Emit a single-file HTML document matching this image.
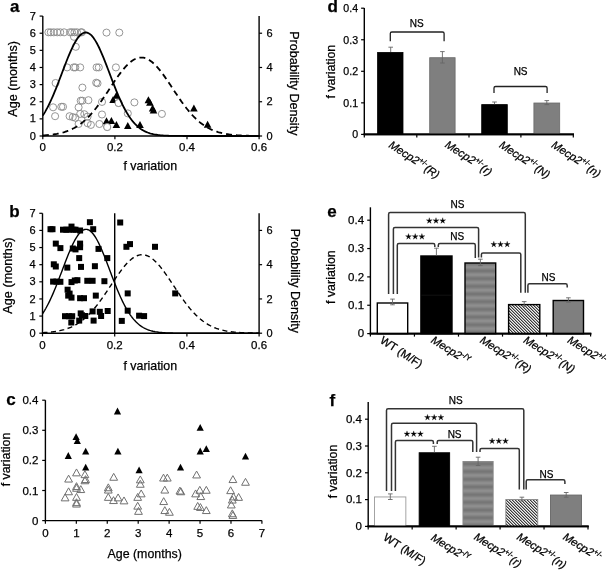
<!DOCTYPE html>
<html><head><meta charset="utf-8"><style>
html,body{margin:0;padding:0;background:#fff;}
svg{display:block;font-family:"Liberation Sans", sans-serif;will-change:transform;filter:blur(0.3px);}
text{stroke:#000;stroke-width:0.25px;}
</style></head><body>
<svg width="609" height="572" viewBox="0 0 609 572">
<defs>
<linearGradient id="hsg" x1="0" y1="0" x2="0" y2="1"><stop offset="0" stop-color="#929292"/><stop offset="0.5" stop-color="#727272"/><stop offset="1" stop-color="#929292"/></linearGradient>
<pattern id="hs" patternUnits="userSpaceOnUse" x="0" y="282.45" width="10" height="7.7"><rect width="10" height="7.7" fill="url(#hsg)"/></pattern>
<pattern id="hs2" patternUnits="userSpaceOnUse" x="0" y="460" width="10" height="7.7"><rect width="10" height="7.7" fill="url(#hsg)"/></pattern>
<pattern id="dg" patternUnits="userSpaceOnUse" width="3" height="3"><rect width="3" height="3" fill="#f0f0f0"/><rect x="0" y="0" width="1" height="1" fill="#3a3a3a"/><rect x="1" y="1" width="1" height="1" fill="#3a3a3a"/><rect x="2" y="2" width="1" height="1" fill="#3a3a3a"/><rect x="1" y="0" width="1" height="1" fill="#a0a0a0"/><rect x="2" y="1" width="1" height="1" fill="#a0a0a0"/><rect x="0" y="2" width="1" height="1" fill="#a0a0a0"/></pattern>
</defs>
<line x1="42.8" y1="16.09" x2="42.8" y2="136.7" stroke="#000" stroke-width="1.4"/>
<line x1="42.1" y1="136" x2="259.8" y2="136" stroke="#000" stroke-width="1.4"/>
<line x1="259.1" y1="16.09" x2="259.1" y2="136.7" stroke="#000" stroke-width="1.4"/>
<line x1="39.6" y1="136" x2="42.8" y2="136" stroke="#000" stroke-width="1.2"/>
<text x="35.8" y="139.6" font-size="11" text-anchor="end" font-weight="normal" font-style="normal" fill="#000">0</text>
<line x1="39.6" y1="118.87" x2="42.8" y2="118.87" stroke="#000" stroke-width="1.2"/>
<text x="35.8" y="122.47" font-size="11" text-anchor="end" font-weight="normal" font-style="normal" fill="#000">1</text>
<line x1="39.6" y1="101.74" x2="42.8" y2="101.74" stroke="#000" stroke-width="1.2"/>
<text x="35.8" y="105.34" font-size="11" text-anchor="end" font-weight="normal" font-style="normal" fill="#000">2</text>
<line x1="39.6" y1="84.61" x2="42.8" y2="84.61" stroke="#000" stroke-width="1.2"/>
<text x="35.8" y="88.21" font-size="11" text-anchor="end" font-weight="normal" font-style="normal" fill="#000">3</text>
<line x1="39.6" y1="67.48" x2="42.8" y2="67.48" stroke="#000" stroke-width="1.2"/>
<text x="35.8" y="71.08" font-size="11" text-anchor="end" font-weight="normal" font-style="normal" fill="#000">4</text>
<line x1="39.6" y1="50.35" x2="42.8" y2="50.35" stroke="#000" stroke-width="1.2"/>
<text x="35.8" y="53.95" font-size="11" text-anchor="end" font-weight="normal" font-style="normal" fill="#000">5</text>
<line x1="39.6" y1="33.22" x2="42.8" y2="33.22" stroke="#000" stroke-width="1.2"/>
<text x="35.8" y="36.82" font-size="11" text-anchor="end" font-weight="normal" font-style="normal" fill="#000">6</text>
<line x1="39.6" y1="16.09" x2="42.8" y2="16.09" stroke="#000" stroke-width="1.2"/>
<text x="35.8" y="19.69" font-size="11" text-anchor="end" font-weight="normal" font-style="normal" fill="#000">7</text>
<line x1="259.1" y1="136" x2="262.1" y2="136" stroke="#000" stroke-width="1.2"/>
<text x="266.4" y="139.6" font-size="11" text-anchor="start" font-weight="normal" font-style="normal" fill="#000">0</text>
<line x1="259.1" y1="101.74" x2="262.1" y2="101.74" stroke="#000" stroke-width="1.2"/>
<text x="266.4" y="105.34" font-size="11" text-anchor="start" font-weight="normal" font-style="normal" fill="#000">2</text>
<line x1="259.1" y1="67.48" x2="262.1" y2="67.48" stroke="#000" stroke-width="1.2"/>
<text x="266.4" y="71.08" font-size="11" text-anchor="start" font-weight="normal" font-style="normal" fill="#000">4</text>
<line x1="259.1" y1="33.22" x2="262.1" y2="33.22" stroke="#000" stroke-width="1.2"/>
<text x="266.4" y="36.82" font-size="11" text-anchor="start" font-weight="normal" font-style="normal" fill="#000">6</text>
<line x1="42.8" y1="136" x2="42.8" y2="139.2" stroke="#000" stroke-width="1.2"/>
<text x="42.8" y="151" font-size="11.5" text-anchor="middle" font-weight="normal" font-style="normal" fill="#000">0</text>
<line x1="114.9" y1="136" x2="114.9" y2="139.2" stroke="#000" stroke-width="1.2"/>
<text x="114.9" y="151" font-size="11.5" text-anchor="middle" font-weight="normal" font-style="normal" fill="#000">0.2</text>
<line x1="187" y1="136" x2="187" y2="139.2" stroke="#000" stroke-width="1.2"/>
<text x="187" y="151" font-size="11.5" text-anchor="middle" font-weight="normal" font-style="normal" fill="#000">0.4</text>
<line x1="259.1" y1="136" x2="259.1" y2="139.2" stroke="#000" stroke-width="1.2"/>
<text x="259.1" y="151" font-size="11.5" text-anchor="middle" font-weight="normal" font-style="normal" fill="#000">0.6</text>
<text x="150.3" y="169.6" font-size="12.4" text-anchor="middle" font-weight="normal" font-style="normal" fill="#000">f variation</text>
<text x="0" y="0" font-size="12.6" text-anchor="middle" font-weight="normal" font-style="normal" fill="#000" transform="translate(16.6,78.9) rotate(-90)">Age (months)</text>
<text x="0" y="0" font-size="12.6" text-anchor="middle" font-weight="normal" font-style="normal" fill="#000" transform="translate(289.8,83.3) rotate(90)">Probability Density</text>
<text x="9.9" y="12" font-size="17" text-anchor="start" font-weight="bold" font-style="normal" fill="#000">a</text>
<circle cx="48.4" cy="32.3" r="3.55" fill="none" stroke="#8a8a8a" stroke-width="0.9"/>
<circle cx="50.8" cy="32.3" r="3.55" fill="none" stroke="#8a8a8a" stroke-width="0.9"/>
<circle cx="53.8" cy="32.3" r="3.55" fill="none" stroke="#8a8a8a" stroke-width="0.9"/>
<circle cx="57.2" cy="32.3" r="3.55" fill="none" stroke="#8a8a8a" stroke-width="0.9"/>
<circle cx="60.2" cy="32.3" r="3.55" fill="none" stroke="#8a8a8a" stroke-width="0.9"/>
<circle cx="64.1" cy="32.3" r="3.55" fill="none" stroke="#8a8a8a" stroke-width="0.9"/>
<circle cx="70" cy="32.3" r="3.55" fill="none" stroke="#8a8a8a" stroke-width="0.9"/>
<circle cx="72" cy="32.3" r="3.55" fill="none" stroke="#8a8a8a" stroke-width="0.9"/>
<circle cx="74.5" cy="32.3" r="3.55" fill="none" stroke="#8a8a8a" stroke-width="0.9"/>
<circle cx="77" cy="32.3" r="3.55" fill="none" stroke="#8a8a8a" stroke-width="0.9"/>
<circle cx="80.9" cy="32.3" r="3.55" fill="none" stroke="#8a8a8a" stroke-width="0.9"/>
<circle cx="81.9" cy="32.3" r="3.55" fill="none" stroke="#8a8a8a" stroke-width="0.9"/>
<circle cx="106.5" cy="32.6" r="3.55" fill="none" stroke="#8a8a8a" stroke-width="0.9"/>
<circle cx="119.3" cy="32.6" r="3.55" fill="none" stroke="#8a8a8a" stroke-width="0.9"/>
<circle cx="74" cy="36.8" r="3.55" fill="none" stroke="#8a8a8a" stroke-width="0.9"/>
<circle cx="75.8" cy="46.8" r="3.55" fill="none" stroke="#8a8a8a" stroke-width="0.9"/>
<circle cx="67.1" cy="67.4" r="3.55" fill="none" stroke="#8a8a8a" stroke-width="0.9"/>
<circle cx="73.7" cy="67.4" r="3.55" fill="none" stroke="#8a8a8a" stroke-width="0.9"/>
<circle cx="75.3" cy="67.4" r="3.55" fill="none" stroke="#8a8a8a" stroke-width="0.9"/>
<circle cx="80.2" cy="67.4" r="3.55" fill="none" stroke="#8a8a8a" stroke-width="0.9"/>
<circle cx="96.6" cy="67.4" r="3.55" fill="none" stroke="#8a8a8a" stroke-width="0.9"/>
<circle cx="98.8" cy="67.4" r="3.55" fill="none" stroke="#8a8a8a" stroke-width="0.9"/>
<circle cx="115.9" cy="67.4" r="3.55" fill="none" stroke="#8a8a8a" stroke-width="0.9"/>
<circle cx="55.6" cy="83" r="3.55" fill="none" stroke="#8a8a8a" stroke-width="0.9"/>
<circle cx="82.4" cy="87.6" r="3.55" fill="none" stroke="#8a8a8a" stroke-width="0.9"/>
<circle cx="96.2" cy="82.7" r="3.55" fill="none" stroke="#8a8a8a" stroke-width="0.9"/>
<circle cx="97.5" cy="83.3" r="3.55" fill="none" stroke="#8a8a8a" stroke-width="0.9"/>
<circle cx="80.7" cy="100.7" r="3.55" fill="none" stroke="#8a8a8a" stroke-width="0.9"/>
<circle cx="82.4" cy="100.7" r="3.55" fill="none" stroke="#8a8a8a" stroke-width="0.9"/>
<circle cx="88.4" cy="100.2" r="3.55" fill="none" stroke="#8a8a8a" stroke-width="0.9"/>
<circle cx="102" cy="101.9" r="3.55" fill="none" stroke="#8a8a8a" stroke-width="0.9"/>
<circle cx="53.1" cy="107.3" r="3.55" fill="none" stroke="#8a8a8a" stroke-width="0.9"/>
<circle cx="61.3" cy="106.8" r="3.55" fill="none" stroke="#8a8a8a" stroke-width="0.9"/>
<circle cx="63" cy="106.8" r="3.55" fill="none" stroke="#8a8a8a" stroke-width="0.9"/>
<circle cx="78.6" cy="107.3" r="3.55" fill="none" stroke="#8a8a8a" stroke-width="0.9"/>
<circle cx="134.4" cy="102.4" r="3.55" fill="none" stroke="#8a8a8a" stroke-width="0.9"/>
<circle cx="118.6" cy="103" r="3.55" fill="none" stroke="#8a8a8a" stroke-width="0.9"/>
<circle cx="55.1" cy="116.2" r="3.55" fill="none" stroke="#8a8a8a" stroke-width="0.9"/>
<circle cx="69.6" cy="116.2" r="3.55" fill="none" stroke="#8a8a8a" stroke-width="0.9"/>
<circle cx="72.8" cy="117.1" r="3.55" fill="none" stroke="#8a8a8a" stroke-width="0.9"/>
<circle cx="75.3" cy="117.8" r="3.55" fill="none" stroke="#8a8a8a" stroke-width="0.9"/>
<circle cx="80.2" cy="113.9" r="3.55" fill="none" stroke="#8a8a8a" stroke-width="0.9"/>
<circle cx="84.3" cy="114.2" r="3.55" fill="none" stroke="#8a8a8a" stroke-width="0.9"/>
<circle cx="87.6" cy="116.6" r="3.55" fill="none" stroke="#8a8a8a" stroke-width="0.9"/>
<circle cx="102" cy="114.5" r="3.55" fill="none" stroke="#8a8a8a" stroke-width="0.9"/>
<circle cx="127.8" cy="113.4" r="3.55" fill="none" stroke="#8a8a8a" stroke-width="0.9"/>
<circle cx="78.6" cy="124" r="3.55" fill="none" stroke="#8a8a8a" stroke-width="0.9"/>
<circle cx="87.6" cy="123.2" r="3.55" fill="none" stroke="#8a8a8a" stroke-width="0.9"/>
<circle cx="90.9" cy="124.9" r="3.55" fill="none" stroke="#8a8a8a" stroke-width="0.9"/>
<circle cx="99.4" cy="124" r="3.55" fill="none" stroke="#8a8a8a" stroke-width="0.9"/>
<circle cx="107.2" cy="127" r="3.55" fill="none" stroke="#8a8a8a" stroke-width="0.9"/>
<circle cx="161.9" cy="113.9" r="3.55" fill="none" stroke="#8a8a8a" stroke-width="0.9"/>
<path d="M116.4 91.8 L120.2 98.8 L112.6 98.8Z" fill="#000" stroke="none" stroke-width="0"/>
<path d="M113.1 95.9 L116.9 102.9 L109.3 102.9Z" fill="#000" stroke="none" stroke-width="0"/>
<path d="M106.5 117.3 L110.3 124.3 L102.7 124.3Z" fill="#000" stroke="none" stroke-width="0"/>
<path d="M111.4 116.9 L115.2 123.9 L107.6 123.9Z" fill="#000" stroke="none" stroke-width="0"/>
<path d="M116.4 121 L120.2 128 L112.6 128Z" fill="#000" stroke="none" stroke-width="0"/>
<path d="M127.8 121.9 L131.6 128.9 L124 128.9Z" fill="#000" stroke="none" stroke-width="0"/>
<path d="M140 121 L143.8 128 L136.2 128Z" fill="#000" stroke="none" stroke-width="0"/>
<path d="M148.4 96.2 L152.2 103.2 L144.6 103.2Z" fill="#000" stroke="none" stroke-width="0"/>
<path d="M149.9 98.7 L153.7 105.7 L146.1 105.7Z" fill="#000" stroke="none" stroke-width="0"/>
<path d="M152.6 104.5 L156.4 111.5 L148.8 111.5Z" fill="#000" stroke="none" stroke-width="0"/>
<path d="M153.5 106.6 L157.3 113.6 L149.7 113.6Z" fill="#000" stroke="none" stroke-width="0"/>
<path d="M193.9 104.5 L197.7 111.5 L190.1 111.5Z" fill="#000" stroke="none" stroke-width="0"/>
<path d="M207.6 120.7 L211.4 127.7 L203.8 127.7Z" fill="#000" stroke="none" stroke-width="0"/>
<circle cx="118.6" cy="103" r="3.55" fill="#fff" stroke="#8a8a8a" stroke-width="0.9"/>
<circle cx="107.2" cy="127" r="3.55" fill="#fff" stroke="#8a8a8a" stroke-width="0.9"/>
<path d="M42.8,115.62 L43.88,113.9 L44.96,112.09 L46.04,110.18 L47.13,108.18 L48.21,106.08 L49.29,103.89 L50.37,101.62 L51.45,99.25 L52.53,96.81 L53.61,94.29 L54.7,91.7 L55.78,89.04 L56.86,86.33 L57.94,83.57 L59.02,80.77 L60.1,77.95 L61.19,75.1 L62.27,72.25 L63.35,69.4 L64.43,66.56 L65.51,63.76 L66.59,60.99 L67.67,58.29 L68.76,55.65 L69.84,53.09 L70.92,50.63 L72,48.27 L73.08,46.04 L74.16,43.94 L75.25,41.98 L76.33,40.19 L77.41,38.56 L78.49,37.1 L79.57,35.83 L80.65,34.76 L81.73,33.88 L82.82,33.21 L83.9,32.75 L84.98,32.5 L86.06,32.47 L87.14,32.65 L88.22,33.04 L89.3,33.64 L90.39,34.45 L91.47,35.45 L92.55,36.66 L93.63,38.05 L94.71,39.62 L95.79,41.37 L96.88,43.27 L97.96,45.32 L99.04,47.51 L100.12,49.83 L101.2,52.26 L102.28,54.78 L103.36,57.4 L104.45,60.08 L105.53,62.83 L106.61,65.62 L107.69,68.45 L108.77,71.3 L109.85,74.15 L110.93,77 L112.02,79.83 L113.1,82.64 L114.18,85.42 L115.26,88.14 L116.34,90.82 L117.42,93.43 L118.5,95.98 L119.59,98.45 L120.67,100.84 L121.75,103.14 L122.83,105.36 L123.91,107.49 L124.99,109.52 L126.08,111.46 L127.16,113.31 L128.24,115.06 L129.32,116.71 L130.4,118.27 L131.48,119.74 L132.56,121.12 L133.65,122.41 L134.73,123.61 L135.81,124.73 L136.89,125.77 L137.97,126.73 L139.05,127.62 L140.13,128.44 L141.22,129.19 L142.3,129.89 L143.38,130.52 L144.46,131.09 L145.54,131.62 L146.62,132.1 L147.71,132.53 L148.79,132.92 L149.87,133.27 L150.95,133.59 L152.03,133.87 L153.11,134.13 L154.19,134.36 L155.28,134.56 L156.36,134.74 L157.44,134.9 L158.52,135.04 L159.6,135.17 L160.68,135.28 L161.76,135.38 L162.85,135.46 L163.93,135.53 L165.01,135.6 L166.09,135.66 L167.17,135.71 L168.25,135.75 L169.34,135.79 L170.42,135.82 L171.5,135.84 L172.58,135.87 L173.66,135.89 L174.74,135.91 L175.82,135.92 L176.91,135.93 L177.99,135.94 L179.07,135.95 L180.15,135.96 L181.23,135.97 L182.31,135.97 L183.39,135.98 L184.48,135.98 L185.56,135.98 L186.64,135.99 L187.72,135.99 L188.8,135.99 L189.88,135.99 L190.97,135.99 L192.05,136 L193.13,136 L194.21,136 L195.29,136 L196.37,136 L197.45,136 L198.54,136 L199.62,136 L200.7,136 L201.78,136 L202.86,136 L203.94,136 L205.02,136 L206.11,136 L207.19,136 L208.27,136 L209.35,136 L210.43,136 L211.51,136 L212.6,136 L213.68,136 L214.76,136 L215.84,136 L216.92,136 L218,136 L219.08,136 L220.17,136 L221.25,136 L222.33,136 L223.41,136 L224.49,136 L225.57,136 L226.65,136 L227.74,136 L228.82,136 L229.9,136 L230.98,136 L232.06,136 L233.14,136 L234.23,136 L235.31,136 L236.39,136 L237.47,136 L238.55,136 L239.63,136 L240.71,136 L241.8,136 L242.88,136 L243.96,136 L245.04,136 L246.12,136 L247.2,136 L248.28,136 L249.37,136 L250.45,136 L251.53,136 L252.61,136 L253.69,136 L254.77,136 L255.86,136 L256.94,136 L258.02,136 L259.1,136" fill="none" stroke="#000" stroke-width="1.8"/>
<path d="M42.8,135.42 L43.88,135.36 L44.96,135.29 L46.04,135.21 L47.13,135.12 L48.21,135.02 L49.29,134.92 L50.37,134.81 L51.45,134.68 L52.53,134.55 L53.61,134.4 L54.7,134.24 L55.78,134.06 L56.86,133.88 L57.94,133.67 L59.02,133.45 L60.1,133.21 L61.19,132.95 L62.27,132.67 L63.35,132.38 L64.43,132.06 L65.51,131.71 L66.59,131.34 L67.67,130.95 L68.76,130.53 L69.84,130.08 L70.92,129.6 L72,129.09 L73.08,128.55 L74.16,127.98 L75.25,127.37 L76.33,126.73 L77.41,126.05 L78.49,125.33 L79.57,124.58 L80.65,123.79 L81.73,122.96 L82.82,122.09 L83.9,121.17 L84.98,120.22 L86.06,119.23 L87.14,118.19 L88.22,117.11 L89.3,116 L90.39,114.84 L91.47,113.64 L92.55,112.4 L93.63,111.12 L94.71,109.8 L95.79,108.44 L96.88,107.05 L97.96,105.63 L99.04,104.17 L100.12,102.68 L101.2,101.17 L102.28,99.63 L103.36,98.06 L104.45,96.48 L105.53,94.87 L106.61,93.26 L107.69,91.63 L108.77,90 L109.85,88.36 L110.93,86.72 L112.02,85.08 L113.1,83.46 L114.18,81.84 L115.26,80.25 L116.34,78.67 L117.42,77.12 L118.5,75.6 L119.59,74.11 L120.67,72.66 L121.75,71.26 L122.83,69.9 L123.91,68.59 L124.99,67.34 L126.08,66.15 L127.16,65.02 L128.24,63.96 L129.32,62.97 L130.4,62.06 L131.48,61.22 L132.56,60.46 L133.65,59.79 L134.73,59.2 L135.81,58.69 L136.89,58.28 L137.97,57.96 L139.05,57.73 L140.13,57.59 L141.22,57.54 L142.3,57.59 L143.38,57.73 L144.46,57.96 L145.54,58.28 L146.62,58.69 L147.71,59.2 L148.79,59.79 L149.87,60.46 L150.95,61.22 L152.03,62.06 L153.11,62.97 L154.19,63.96 L155.28,65.02 L156.36,66.15 L157.44,67.34 L158.52,68.59 L159.6,69.9 L160.68,71.26 L161.76,72.66 L162.85,74.11 L163.93,75.6 L165.01,77.12 L166.09,78.67 L167.17,80.25 L168.25,81.84 L169.34,83.46 L170.42,85.08 L171.5,86.72 L172.58,88.36 L173.66,90 L174.74,91.63 L175.82,93.26 L176.91,94.87 L177.99,96.48 L179.07,98.06 L180.15,99.63 L181.23,101.17 L182.31,102.68 L183.39,104.17 L184.48,105.63 L185.56,107.05 L186.64,108.44 L187.72,109.8 L188.8,111.12 L189.88,112.4 L190.97,113.64 L192.05,114.84 L193.13,116 L194.21,117.11 L195.29,118.19 L196.37,119.23 L197.45,120.22 L198.54,121.17 L199.62,122.09 L200.7,122.96 L201.78,123.79 L202.86,124.58 L203.94,125.33 L205.02,126.05 L206.11,126.73 L207.19,127.37 L208.27,127.98 L209.35,128.55 L210.43,129.09 L211.51,129.6 L212.6,130.08 L213.68,130.53 L214.76,130.95 L215.84,131.34 L216.92,131.71 L218,132.06 L219.08,132.38 L220.17,132.67 L221.25,132.95 L222.33,133.21 L223.41,133.45 L224.49,133.67 L225.57,133.88 L226.65,134.06 L227.74,134.24 L228.82,134.4 L229.9,134.55 L230.98,134.68 L232.06,134.81 L233.14,134.92 L234.23,135.02 L235.31,135.12 L236.39,135.21 L237.47,135.29 L238.55,135.36 L239.63,135.42 L240.71,135.48 L241.8,135.54 L242.88,135.58 L243.96,135.63 L245.04,135.67 L246.12,135.7 L247.2,135.74 L248.28,135.77 L249.37,135.79 L250.45,135.82 L251.53,135.84 L252.61,135.85 L253.69,135.87 L254.77,135.89 L255.86,135.9 L256.94,135.91 L258.02,135.92 L259.1,135.93" fill="none" stroke="#000" stroke-width="1.8" stroke-dasharray="6,4"/>
<line x1="42.5" y1="213.29" x2="42.5" y2="333.9" stroke="#000" stroke-width="1.4"/>
<line x1="41.8" y1="333.2" x2="259.8" y2="333.2" stroke="#000" stroke-width="1.4"/>
<line x1="259.1" y1="213.29" x2="259.1" y2="333.9" stroke="#000" stroke-width="1.4"/>
<line x1="39.3" y1="333.2" x2="42.5" y2="333.2" stroke="#000" stroke-width="1.2"/>
<text x="35.5" y="336.8" font-size="11" text-anchor="end" font-weight="normal" font-style="normal" fill="#000">0</text>
<line x1="39.3" y1="316.07" x2="42.5" y2="316.07" stroke="#000" stroke-width="1.2"/>
<text x="35.5" y="319.67" font-size="11" text-anchor="end" font-weight="normal" font-style="normal" fill="#000">1</text>
<line x1="39.3" y1="298.94" x2="42.5" y2="298.94" stroke="#000" stroke-width="1.2"/>
<text x="35.5" y="302.54" font-size="11" text-anchor="end" font-weight="normal" font-style="normal" fill="#000">2</text>
<line x1="39.3" y1="281.81" x2="42.5" y2="281.81" stroke="#000" stroke-width="1.2"/>
<text x="35.5" y="285.41" font-size="11" text-anchor="end" font-weight="normal" font-style="normal" fill="#000">3</text>
<line x1="39.3" y1="264.68" x2="42.5" y2="264.68" stroke="#000" stroke-width="1.2"/>
<text x="35.5" y="268.28" font-size="11" text-anchor="end" font-weight="normal" font-style="normal" fill="#000">4</text>
<line x1="39.3" y1="247.55" x2="42.5" y2="247.55" stroke="#000" stroke-width="1.2"/>
<text x="35.5" y="251.15" font-size="11" text-anchor="end" font-weight="normal" font-style="normal" fill="#000">5</text>
<line x1="39.3" y1="230.42" x2="42.5" y2="230.42" stroke="#000" stroke-width="1.2"/>
<text x="35.5" y="234.02" font-size="11" text-anchor="end" font-weight="normal" font-style="normal" fill="#000">6</text>
<line x1="39.3" y1="213.29" x2="42.5" y2="213.29" stroke="#000" stroke-width="1.2"/>
<text x="35.5" y="216.89" font-size="11" text-anchor="end" font-weight="normal" font-style="normal" fill="#000">7</text>
<line x1="259.1" y1="333.2" x2="262.1" y2="333.2" stroke="#000" stroke-width="1.2"/>
<text x="266.4" y="336.8" font-size="11" text-anchor="start" font-weight="normal" font-style="normal" fill="#000">0</text>
<line x1="259.1" y1="298.94" x2="262.1" y2="298.94" stroke="#000" stroke-width="1.2"/>
<text x="266.4" y="302.54" font-size="11" text-anchor="start" font-weight="normal" font-style="normal" fill="#000">2</text>
<line x1="259.1" y1="264.68" x2="262.1" y2="264.68" stroke="#000" stroke-width="1.2"/>
<text x="266.4" y="268.28" font-size="11" text-anchor="start" font-weight="normal" font-style="normal" fill="#000">4</text>
<line x1="259.1" y1="230.42" x2="262.1" y2="230.42" stroke="#000" stroke-width="1.2"/>
<text x="266.4" y="234.02" font-size="11" text-anchor="start" font-weight="normal" font-style="normal" fill="#000">6</text>
<line x1="42.5" y1="333.2" x2="42.5" y2="336.4" stroke="#000" stroke-width="1.2"/>
<text x="42.5" y="349" font-size="11.5" text-anchor="middle" font-weight="normal" font-style="normal" fill="#000">0</text>
<line x1="114.7" y1="333.2" x2="114.7" y2="336.4" stroke="#000" stroke-width="1.2"/>
<text x="114.7" y="349" font-size="11.5" text-anchor="middle" font-weight="normal" font-style="normal" fill="#000">0.2</text>
<line x1="186.9" y1="333.2" x2="186.9" y2="336.4" stroke="#000" stroke-width="1.2"/>
<text x="186.9" y="349" font-size="11.5" text-anchor="middle" font-weight="normal" font-style="normal" fill="#000">0.4</text>
<line x1="259.1" y1="333.2" x2="259.1" y2="336.4" stroke="#000" stroke-width="1.2"/>
<text x="259.1" y="349" font-size="11.5" text-anchor="middle" font-weight="normal" font-style="normal" fill="#000">0.6</text>
<text x="150.3" y="370.3" font-size="12.4" text-anchor="middle" font-weight="normal" font-style="normal" fill="#000">f variation</text>
<text x="0" y="0" font-size="12.7" text-anchor="middle" font-weight="normal" font-style="normal" fill="#000" transform="translate(12.2,275.6) rotate(-90)">Age (months)</text>
<text x="0" y="0" font-size="12.6" text-anchor="middle" font-weight="normal" font-style="normal" fill="#000" transform="translate(290.5,280.8) rotate(90)">Probability Density</text>
<text x="9.3" y="216.5" font-size="17" text-anchor="start" font-weight="bold" font-style="normal" fill="#000">b</text>
<line x1="114.7" y1="213.29" x2="114.7" y2="333.2" stroke="#000" stroke-width="1.4"/>
<rect x="47.5" y="226.2" width="6" height="6" fill="#000"/>
<rect x="49.5" y="226.2" width="6" height="6" fill="#000"/>
<rect x="60" y="226.7" width="6" height="6" fill="#000"/>
<rect x="63.3" y="226.7" width="6" height="6" fill="#000"/>
<rect x="65.9" y="226.7" width="6" height="6" fill="#000"/>
<rect x="68.5" y="223.6" width="6" height="6" fill="#000"/>
<rect x="70.5" y="226.7" width="6" height="6" fill="#000"/>
<rect x="72.5" y="226.7" width="6" height="6" fill="#000"/>
<rect x="77.1" y="227.5" width="6" height="6" fill="#000"/>
<rect x="86.9" y="219.2" width="6" height="6" fill="#000"/>
<rect x="90.2" y="226.2" width="6" height="6" fill="#000"/>
<rect x="117.2" y="219.5" width="6" height="6" fill="#000"/>
<rect x="52.8" y="240.6" width="6" height="6" fill="#000"/>
<rect x="57.4" y="245.1" width="6" height="6" fill="#000"/>
<rect x="69.8" y="245.5" width="6" height="6" fill="#000"/>
<rect x="72.5" y="246.4" width="6" height="6" fill="#000"/>
<rect x="77.1" y="240.6" width="6" height="6" fill="#000"/>
<rect x="77.1" y="244.2" width="6" height="6" fill="#000"/>
<rect x="95.5" y="245.9" width="6" height="6" fill="#000"/>
<rect x="123.4" y="243.8" width="6" height="6" fill="#000"/>
<rect x="127" y="241.1" width="6" height="6" fill="#000"/>
<rect x="152" y="243.8" width="6" height="6" fill="#000"/>
<rect x="76.2" y="255.1" width="6" height="6" fill="#000"/>
<rect x="104.3" y="255.1" width="6" height="6" fill="#000"/>
<rect x="50.8" y="261.3" width="6" height="6" fill="#000"/>
<rect x="52.8" y="263.5" width="6" height="6" fill="#000"/>
<rect x="64.3" y="264.6" width="6" height="6" fill="#000"/>
<rect x="78" y="263.9" width="6" height="6" fill="#000"/>
<rect x="91.9" y="263.2" width="6" height="6" fill="#000"/>
<rect x="50.1" y="278.6" width="6" height="6" fill="#000"/>
<rect x="53.4" y="278.6" width="6" height="6" fill="#000"/>
<rect x="57.4" y="278.8" width="6" height="6" fill="#000"/>
<rect x="68.5" y="279.1" width="6" height="6" fill="#000"/>
<rect x="71.8" y="277.5" width="6" height="6" fill="#000"/>
<rect x="74.4" y="277.2" width="6" height="6" fill="#000"/>
<rect x="84.3" y="277.8" width="6" height="6" fill="#000"/>
<rect x="89.6" y="277.8" width="6" height="6" fill="#000"/>
<rect x="101.4" y="278.2" width="6" height="6" fill="#000"/>
<rect x="124.7" y="290.4" width="6" height="6" fill="#000"/>
<rect x="172.2" y="290.4" width="6" height="6" fill="#000"/>
<rect x="64.6" y="286.7" width="6" height="6" fill="#000"/>
<rect x="66.6" y="290.6" width="6" height="6" fill="#000"/>
<rect x="68.5" y="294.6" width="6" height="6" fill="#000"/>
<rect x="65.2" y="292.6" width="6" height="6" fill="#000"/>
<rect x="77.1" y="295.2" width="6" height="6" fill="#000"/>
<rect x="81" y="295.2" width="6" height="6" fill="#000"/>
<rect x="92.8" y="292.6" width="6" height="6" fill="#000"/>
<rect x="62" y="313.2" width="6" height="6" fill="#000"/>
<rect x="65.9" y="313.2" width="6" height="6" fill="#000"/>
<rect x="69.2" y="313.2" width="6" height="6" fill="#000"/>
<rect x="77.7" y="310.4" width="6" height="6" fill="#000"/>
<rect x="79" y="312.3" width="6" height="6" fill="#000"/>
<rect x="82.3" y="313" width="6" height="6" fill="#000"/>
<rect x="89.6" y="308.4" width="6" height="6" fill="#000"/>
<rect x="96.8" y="308.8" width="6" height="6" fill="#000"/>
<rect x="98.1" y="313" width="6" height="6" fill="#000"/>
<rect x="104.7" y="308" width="6" height="6" fill="#000"/>
<rect x="124.7" y="307.7" width="6" height="6" fill="#000"/>
<rect x="136.1" y="312.7" width="6" height="6" fill="#000"/>
<rect x="141.1" y="313.1" width="6" height="6" fill="#000"/>
<rect x="118.8" y="317.9" width="6" height="6" fill="#000"/>
<rect x="68.3" y="319.5" width="6" height="6" fill="#000"/>
<rect x="76.2" y="317.6" width="6" height="6" fill="#000"/>
<rect x="90.6" y="317.6" width="6" height="6" fill="#000"/>
<path d="M42.5,313.78 L43.58,312.11 L44.67,310.35 L45.75,308.49 L46.83,306.53 L47.91,304.48 L49,302.33 L50.08,300.09 L51.16,297.77 L52.25,295.36 L53.33,292.87 L54.41,290.3 L55.5,287.67 L56.58,284.97 L57.66,282.22 L58.75,279.43 L59.83,276.6 L60.91,273.75 L61.99,270.88 L63.08,268.01 L64.16,265.14 L65.24,262.3 L66.33,259.5 L67.41,256.74 L68.49,254.05 L69.58,251.43 L70.66,248.9 L71.74,246.47 L72.82,244.15 L73.91,241.97 L74.99,239.92 L76.07,238.03 L77.16,236.3 L78.24,234.74 L79.32,233.37 L80.41,232.18 L81.49,231.2 L82.57,230.42 L83.65,229.85 L84.74,229.49 L85.82,229.34 L86.9,229.42 L87.99,229.7 L89.07,230.2 L90.15,230.92 L91.24,231.83 L92.32,232.95 L93.4,234.26 L94.48,235.76 L95.57,237.43 L96.65,239.27 L97.73,241.27 L98.82,243.41 L99.9,245.68 L100.98,248.07 L102.06,250.57 L103.15,253.16 L104.23,255.84 L105.31,258.57 L106.4,261.36 L107.48,264.19 L108.56,267.05 L109.65,269.92 L110.73,272.79 L111.81,275.65 L112.89,278.49 L113.98,281.3 L115.06,284.06 L116.14,286.77 L117.23,289.43 L118.31,292.02 L119.39,294.54 L120.48,296.97 L121.56,299.33 L122.64,301.6 L123.73,303.77 L124.81,305.86 L125.89,307.85 L126.97,309.74 L128.06,311.54 L129.14,313.24 L130.22,314.84 L131.31,316.35 L132.39,317.77 L133.47,319.1 L134.56,320.34 L135.64,321.5 L136.72,322.57 L137.8,323.57 L138.89,324.49 L139.97,325.34 L141.05,326.12 L142.14,326.84 L143.22,327.49 L144.3,328.09 L145.38,328.64 L146.47,329.13 L147.55,329.58 L148.63,329.99 L149.72,330.36 L150.8,330.69 L151.88,330.98 L152.97,331.25 L154.05,331.48 L155.13,331.7 L156.22,331.88 L157.3,332.05 L158.38,332.2 L159.46,332.33 L160.55,332.45 L161.63,332.55 L162.71,332.64 L163.8,332.71 L164.88,332.78 L165.96,332.84 L167.04,332.89 L168.13,332.94 L169.21,332.98 L170.29,333.01 L171.38,333.04 L172.46,333.06 L173.54,333.08 L174.63,333.1 L175.71,333.12 L176.79,333.13 L177.88,333.14 L178.96,333.15 L180.04,333.16 L181.12,333.17 L182.21,333.17 L183.29,333.18 L184.37,333.18 L185.46,333.18 L186.54,333.19 L187.62,333.19 L188.71,333.19 L189.79,333.19 L190.87,333.19 L191.95,333.2 L193.04,333.2 L194.12,333.2 L195.2,333.2 L196.29,333.2 L197.37,333.2 L198.45,333.2 L199.53,333.2 L200.62,333.2 L201.7,333.2 L202.78,333.2 L203.87,333.2 L204.95,333.2 L206.03,333.2 L207.12,333.2 L208.2,333.2 L209.28,333.2 L210.37,333.2 L211.45,333.2 L212.53,333.2 L213.61,333.2 L214.7,333.2 L215.78,333.2 L216.86,333.2 L217.95,333.2 L219.03,333.2 L220.11,333.2 L221.19,333.2 L222.28,333.2 L223.36,333.2 L224.44,333.2 L225.53,333.2 L226.61,333.2 L227.69,333.2 L228.78,333.2 L229.86,333.2 L230.94,333.2 L232.03,333.2 L233.11,333.2 L234.19,333.2 L235.27,333.2 L236.36,333.2 L237.44,333.2 L238.52,333.2 L239.61,333.2 L240.69,333.2 L241.77,333.2 L242.86,333.2 L243.94,333.2 L245.02,333.2 L246.1,333.2 L247.19,333.2 L248.27,333.2 L249.35,333.2 L250.44,333.2 L251.52,333.2 L252.6,333.2 L253.68,333.2 L254.77,333.2 L255.85,333.2 L256.93,333.2 L258.02,333.2 L259.1,333.2" fill="none" stroke="#000" stroke-width="1.4"/>
<path d="M42.5,332.68 L43.58,332.62 L44.67,332.56 L45.75,332.49 L46.83,332.41 L47.91,332.32 L49,332.22 L50.08,332.12 L51.16,332.01 L52.25,331.88 L53.33,331.75 L54.41,331.6 L55.5,331.44 L56.58,331.26 L57.66,331.08 L58.75,330.87 L59.83,330.65 L60.91,330.41 L61.99,330.15 L63.08,329.87 L64.16,329.58 L65.24,329.26 L66.33,328.91 L67.41,328.54 L68.49,328.15 L69.58,327.73 L70.66,327.28 L71.74,326.8 L72.82,326.29 L73.91,325.75 L74.99,325.18 L76.07,324.57 L77.16,323.93 L78.24,323.25 L79.32,322.53 L80.41,321.78 L81.49,320.99 L82.57,320.16 L83.65,319.29 L84.74,318.37 L85.82,317.42 L86.9,316.43 L87.99,315.39 L89.07,314.31 L90.15,313.2 L91.24,312.04 L92.32,310.84 L93.4,309.6 L94.48,308.32 L95.57,307 L96.65,305.64 L97.73,304.25 L98.82,302.83 L99.9,301.37 L100.98,299.88 L102.06,298.37 L103.15,296.83 L104.23,295.26 L105.31,293.68 L106.4,292.07 L107.48,290.46 L108.56,288.83 L109.65,287.2 L110.73,285.56 L111.81,283.92 L112.89,282.28 L113.98,280.66 L115.06,279.04 L116.14,277.45 L117.23,275.87 L118.31,274.32 L119.39,272.8 L120.48,271.31 L121.56,269.86 L122.64,268.46 L123.73,267.1 L124.81,265.79 L125.89,264.54 L126.97,263.35 L128.06,262.22 L129.14,261.16 L130.22,260.17 L131.31,259.26 L132.39,258.42 L133.47,257.66 L134.56,256.99 L135.64,256.4 L136.72,255.89 L137.8,255.48 L138.89,255.16 L139.97,254.93 L141.05,254.79 L142.14,254.74 L143.22,254.79 L144.3,254.93 L145.38,255.16 L146.47,255.48 L147.55,255.89 L148.63,256.4 L149.72,256.99 L150.8,257.66 L151.88,258.42 L152.97,259.26 L154.05,260.17 L155.13,261.16 L156.22,262.22 L157.3,263.35 L158.38,264.54 L159.46,265.79 L160.55,267.1 L161.63,268.46 L162.71,269.86 L163.8,271.31 L164.88,272.8 L165.96,274.32 L167.04,275.87 L168.13,277.45 L169.21,279.04 L170.29,280.66 L171.38,282.28 L172.46,283.92 L173.54,285.56 L174.63,287.2 L175.71,288.83 L176.79,290.46 L177.88,292.07 L178.96,293.68 L180.04,295.26 L181.12,296.83 L182.21,298.37 L183.29,299.88 L184.37,301.37 L185.46,302.83 L186.54,304.25 L187.62,305.64 L188.71,307 L189.79,308.32 L190.87,309.6 L191.95,310.84 L193.04,312.04 L194.12,313.2 L195.2,314.31 L196.29,315.39 L197.37,316.43 L198.45,317.42 L199.53,318.37 L200.62,319.29 L201.7,320.16 L202.78,320.99 L203.87,321.78 L204.95,322.53 L206.03,323.25 L207.12,323.93 L208.2,324.57 L209.28,325.18 L210.37,325.75 L211.45,326.29 L212.53,326.8 L213.61,327.28 L214.7,327.73 L215.78,328.15 L216.86,328.54 L217.95,328.91 L219.03,329.26 L220.11,329.58 L221.19,329.87 L222.28,330.15 L223.36,330.41 L224.44,330.65 L225.53,330.87 L226.61,331.08 L227.69,331.26 L228.78,331.44 L229.86,331.6 L230.94,331.75 L232.03,331.88 L233.11,332.01 L234.19,332.12 L235.27,332.22 L236.36,332.32 L237.44,332.41 L238.52,332.49 L239.61,332.56 L240.69,332.62 L241.77,332.68 L242.86,332.74 L243.94,332.78 L245.02,332.83 L246.1,332.87 L247.19,332.9 L248.27,332.94 L249.35,332.97 L250.44,332.99 L251.52,333.02 L252.6,333.04 L253.68,333.05 L254.77,333.07 L255.85,333.09 L256.93,333.1 L258.02,333.11 L259.1,333.12" fill="none" stroke="#000" stroke-width="1.4" stroke-dasharray="5,3.5"/>
<line x1="45.4" y1="400.2" x2="45.4" y2="521.3" stroke="#000" stroke-width="1.4"/>
<line x1="44.7" y1="520.6" x2="261.91" y2="520.6" stroke="#000" stroke-width="1.4"/>
<line x1="42.2" y1="520.6" x2="45.4" y2="520.6" stroke="#000" stroke-width="1.2"/>
<text x="38.4" y="524.6" font-size="11.5" text-anchor="end" font-weight="normal" font-style="normal" fill="#000">0</text>
<line x1="42.2" y1="490.5" x2="45.4" y2="490.5" stroke="#000" stroke-width="1.2"/>
<text x="38.4" y="494.5" font-size="11.5" text-anchor="end" font-weight="normal" font-style="normal" fill="#000">0.1</text>
<line x1="42.2" y1="460.4" x2="45.4" y2="460.4" stroke="#000" stroke-width="1.2"/>
<text x="38.4" y="464.4" font-size="11.5" text-anchor="end" font-weight="normal" font-style="normal" fill="#000">0.2</text>
<line x1="42.2" y1="430.3" x2="45.4" y2="430.3" stroke="#000" stroke-width="1.2"/>
<text x="38.4" y="434.3" font-size="11.5" text-anchor="end" font-weight="normal" font-style="normal" fill="#000">0.3</text>
<line x1="42.2" y1="400.2" x2="45.4" y2="400.2" stroke="#000" stroke-width="1.2"/>
<text x="38.4" y="404.2" font-size="11.5" text-anchor="end" font-weight="normal" font-style="normal" fill="#000">0.4</text>
<line x1="45.4" y1="520.6" x2="45.4" y2="523.8" stroke="#000" stroke-width="1.2"/>
<text x="45.4" y="537.2" font-size="11.5" text-anchor="middle" font-weight="normal" font-style="normal" fill="#000">0</text>
<line x1="76.33" y1="520.6" x2="76.33" y2="523.8" stroke="#000" stroke-width="1.2"/>
<text x="76.33" y="537.2" font-size="11.5" text-anchor="middle" font-weight="normal" font-style="normal" fill="#000">1</text>
<line x1="107.26" y1="520.6" x2="107.26" y2="523.8" stroke="#000" stroke-width="1.2"/>
<text x="107.26" y="537.2" font-size="11.5" text-anchor="middle" font-weight="normal" font-style="normal" fill="#000">2</text>
<line x1="138.19" y1="520.6" x2="138.19" y2="523.8" stroke="#000" stroke-width="1.2"/>
<text x="138.19" y="537.2" font-size="11.5" text-anchor="middle" font-weight="normal" font-style="normal" fill="#000">3</text>
<line x1="169.12" y1="520.6" x2="169.12" y2="523.8" stroke="#000" stroke-width="1.2"/>
<text x="169.12" y="537.2" font-size="11.5" text-anchor="middle" font-weight="normal" font-style="normal" fill="#000">4</text>
<line x1="200.05" y1="520.6" x2="200.05" y2="523.8" stroke="#000" stroke-width="1.2"/>
<text x="200.05" y="537.2" font-size="11.5" text-anchor="middle" font-weight="normal" font-style="normal" fill="#000">5</text>
<line x1="230.98" y1="520.6" x2="230.98" y2="523.8" stroke="#000" stroke-width="1.2"/>
<text x="230.98" y="537.2" font-size="11.5" text-anchor="middle" font-weight="normal" font-style="normal" fill="#000">6</text>
<line x1="261.91" y1="520.6" x2="261.91" y2="523.8" stroke="#000" stroke-width="1.2"/>
<text x="261.91" y="537.2" font-size="11.5" text-anchor="middle" font-weight="normal" font-style="normal" fill="#000">7</text>
<text x="144.7" y="558.4" font-size="12.4" text-anchor="middle" font-weight="normal" font-style="normal" fill="#000">Age (months)</text>
<text x="0" y="0" font-size="12.4" text-anchor="middle" font-weight="normal" font-style="normal" fill="#000" transform="translate(9.8,459.5) rotate(-90)">f variation</text>
<text x="6.3" y="404.8" font-size="17" text-anchor="start" font-weight="bold" font-style="normal" fill="#000">c</text>
<path d="M76.5 468.95 L80.4 475.85 L72.6 475.85Z" fill="none" stroke="#707070" stroke-width="1.0"/>
<path d="M68.6 475.15 L72.5 482.05 L64.7 482.05Z" fill="none" stroke="#707070" stroke-width="1.0"/>
<path d="M84.9 470.75 L88.8 477.65 L81 477.65Z" fill="none" stroke="#707070" stroke-width="1.0"/>
<path d="M85.6 475.65 L89.5 482.55 L81.7 482.55Z" fill="none" stroke="#707070" stroke-width="1.0"/>
<path d="M84.9 476.85 L88.8 483.75 L81 483.75Z" fill="none" stroke="#707070" stroke-width="1.0"/>
<path d="M76.5 482.65 L80.4 489.55 L72.6 489.55Z" fill="none" stroke="#707070" stroke-width="1.0"/>
<path d="M76.5 484.35 L80.4 491.25 L72.6 491.25Z" fill="none" stroke="#707070" stroke-width="1.0"/>
<path d="M80.8 485.65 L84.7 492.55 L76.9 492.55Z" fill="none" stroke="#707070" stroke-width="1.0"/>
<path d="M68.6 487.85 L72.5 494.75 L64.7 494.75Z" fill="none" stroke="#707070" stroke-width="1.0"/>
<path d="M65.1 493.95 L69 500.85 L61.2 500.85Z" fill="none" stroke="#707070" stroke-width="1.0"/>
<path d="M76.5 493.45 L80.4 500.35 L72.6 500.35Z" fill="none" stroke="#707070" stroke-width="1.0"/>
<path d="M76.5 498.75 L80.4 505.65 L72.6 505.65Z" fill="none" stroke="#707070" stroke-width="1.0"/>
<path d="M76.5 500.15 L80.4 507.05 L72.6 507.05Z" fill="none" stroke="#707070" stroke-width="1.0"/>
<path d="M113.7 473.35 L117.6 480.25 L109.8 480.25Z" fill="none" stroke="#707070" stroke-width="1.0"/>
<path d="M108.3 483.85 L112.2 490.75 L104.4 490.75Z" fill="none" stroke="#707070" stroke-width="1.0"/>
<path d="M108.3 486.15 L112.2 493.05 L104.4 493.05Z" fill="none" stroke="#707070" stroke-width="1.0"/>
<path d="M108.3 493.45 L112.2 500.35 L104.4 500.35Z" fill="none" stroke="#707070" stroke-width="1.0"/>
<path d="M113.5 496.65 L117.4 503.55 L109.6 503.55Z" fill="none" stroke="#707070" stroke-width="1.0"/>
<path d="M118.1 493.95 L122 500.85 L114.2 500.85Z" fill="none" stroke="#707070" stroke-width="1.0"/>
<path d="M124 496.95 L127.9 503.85 L120.1 503.85Z" fill="none" stroke="#707070" stroke-width="1.0"/>
<path d="M140.3 475.95 L144.2 482.85 L136.4 482.85Z" fill="none" stroke="#707070" stroke-width="1.0"/>
<path d="M140.3 480.35 L144.2 487.25 L136.4 487.25Z" fill="none" stroke="#707070" stroke-width="1.0"/>
<path d="M141.2 489.95 L145.1 496.85 L137.3 496.85Z" fill="none" stroke="#707070" stroke-width="1.0"/>
<path d="M137.7 493.45 L141.6 500.35 L133.8 500.35Z" fill="none" stroke="#707070" stroke-width="1.0"/>
<path d="M137.7 502.25 L141.6 509.15 L133.8 509.15Z" fill="none" stroke="#707070" stroke-width="1.0"/>
<path d="M138.5 507.45 L142.4 514.35 L134.6 514.35Z" fill="none" stroke="#707070" stroke-width="1.0"/>
<path d="M163.5 474.15 L167.4 481.05 L159.6 481.05Z" fill="none" stroke="#707070" stroke-width="1.0"/>
<path d="M167.3 474.15 L171.2 481.05 L163.4 481.05Z" fill="none" stroke="#707070" stroke-width="1.0"/>
<path d="M164.8 486.15 L168.7 493.05 L160.9 493.05Z" fill="none" stroke="#707070" stroke-width="1.0"/>
<path d="M163.7 497.65 L167.6 504.55 L159.8 504.55Z" fill="none" stroke="#707070" stroke-width="1.0"/>
<path d="M164.8 506.65 L168.7 513.55 L160.9 513.55Z" fill="none" stroke="#707070" stroke-width="1.0"/>
<path d="M169.4 508.35 L173.3 515.25 L165.5 515.25Z" fill="none" stroke="#707070" stroke-width="1.0"/>
<path d="M179.9 487.15 L183.8 494.05 L176 494.05Z" fill="none" stroke="#707070" stroke-width="1.0"/>
<path d="M180.9 487.85 L184.8 494.75 L177 494.75Z" fill="none" stroke="#707070" stroke-width="1.0"/>
<path d="M196.6 471.05 L200.5 477.95 L192.7 477.95Z" fill="none" stroke="#707070" stroke-width="1.0"/>
<path d="M195.6 489.95 L199.5 496.85 L191.7 496.85Z" fill="none" stroke="#707070" stroke-width="1.0"/>
<path d="M199.8 486.35 L203.7 493.25 L195.9 493.25Z" fill="none" stroke="#707070" stroke-width="1.0"/>
<path d="M200.8 492.65 L204.7 499.55 L196.9 499.55Z" fill="none" stroke="#707070" stroke-width="1.0"/>
<path d="M206.3 486.35 L210.2 493.25 L202.4 493.25Z" fill="none" stroke="#707070" stroke-width="1.0"/>
<path d="M197.7 502.45 L201.6 509.35 L193.8 509.35Z" fill="none" stroke="#707070" stroke-width="1.0"/>
<path d="M200.4 503.55 L204.3 510.45 L196.5 510.45Z" fill="none" stroke="#707070" stroke-width="1.0"/>
<path d="M206.3 506.65 L210.2 513.55 L202.4 513.55Z" fill="none" stroke="#707070" stroke-width="1.0"/>
<path d="M232.9 475.65 L236.8 482.55 L229 482.55Z" fill="none" stroke="#707070" stroke-width="1.0"/>
<path d="M245.5 478.35 L249.4 485.25 L241.6 485.25Z" fill="none" stroke="#707070" stroke-width="1.0"/>
<path d="M230.6 486.75 L234.5 493.65 L226.7 493.65Z" fill="none" stroke="#707070" stroke-width="1.0"/>
<path d="M233.4 493.05 L237.3 499.95 L229.5 499.95Z" fill="none" stroke="#707070" stroke-width="1.0"/>
<path d="M232.3 496.15 L236.2 503.05 L228.4 503.05Z" fill="none" stroke="#707070" stroke-width="1.0"/>
<path d="M238.6 493.45 L242.5 500.35 L234.7 500.35Z" fill="none" stroke="#707070" stroke-width="1.0"/>
<path d="M231.3 501.05 L235.2 507.95 L227.4 507.95Z" fill="none" stroke="#707070" stroke-width="1.0"/>
<path d="M232.3 509.85 L236.2 516.75 L228.4 516.75Z" fill="none" stroke="#707070" stroke-width="1.0"/>
<path d="M232.9 511.55 L236.8 518.45 L229 518.45Z" fill="none" stroke="#707070" stroke-width="1.0"/>
<path d="M76.1 433.2 L79.7 440 L72.5 440Z" fill="#000" stroke="none" stroke-width="0"/>
<path d="M77.3 437.2 L80.9 444 L73.7 444Z" fill="#000" stroke="none" stroke-width="0"/>
<path d="M85.7 447.7 L89.3 454.5 L82.1 454.5Z" fill="#000" stroke="none" stroke-width="0"/>
<path d="M68.3 452.1 L71.9 458.9 L64.7 458.9Z" fill="#000" stroke="none" stroke-width="0"/>
<path d="M85.7 463.8 L89.3 470.6 L82.1 470.6Z" fill="#000" stroke="none" stroke-width="0"/>
<path d="M117.9 447.7 L121.5 454.5 L114.3 454.5Z" fill="#000" stroke="none" stroke-width="0"/>
<path d="M117.5 407.6 L121.1 414.4 L113.9 414.4Z" fill="#000" stroke="none" stroke-width="0"/>
<path d="M139.1 466.4 L142.7 473.2 L135.5 473.2Z" fill="#000" stroke="none" stroke-width="0"/>
<path d="M200.2 423.9 L203.8 430.7 L196.6 430.7Z" fill="#000" stroke="none" stroke-width="0"/>
<path d="M200.2 447.6 L203.8 454.4 L196.6 454.4Z" fill="#000" stroke="none" stroke-width="0"/>
<path d="M206.3 445.3 L209.9 452.1 L202.7 452.1Z" fill="#000" stroke="none" stroke-width="0"/>
<path d="M245.5 452.8 L249.1 459.6 L241.9 459.6Z" fill="#000" stroke="none" stroke-width="0"/>
<path d="M180.5 463.7 L184.1 470.5 L176.9 470.5Z" fill="#000" stroke="none" stroke-width="0"/>
<line x1="364.3" y1="8" x2="364.3" y2="135.1" stroke="#000" stroke-width="1.4"/>
<line x1="363.6" y1="134.4" x2="574" y2="134.4" stroke="#000" stroke-width="1.6"/>
<line x1="361.1" y1="134.4" x2="364.3" y2="134.4" stroke="#000" stroke-width="1.2"/>
<text x="358.1" y="138.2" font-size="10.6" text-anchor="end" font-weight="normal" font-style="normal" fill="#000">0</text>
<line x1="361.1" y1="102.85" x2="364.3" y2="102.85" stroke="#000" stroke-width="1.2"/>
<text x="358.1" y="106.65" font-size="10.6" text-anchor="end" font-weight="normal" font-style="normal" fill="#000">0.1</text>
<line x1="361.1" y1="71.3" x2="364.3" y2="71.3" stroke="#000" stroke-width="1.2"/>
<text x="358.1" y="75.1" font-size="10.6" text-anchor="end" font-weight="normal" font-style="normal" fill="#000">0.2</text>
<line x1="361.1" y1="39.75" x2="364.3" y2="39.75" stroke="#000" stroke-width="1.2"/>
<text x="358.1" y="43.55" font-size="10.6" text-anchor="end" font-weight="normal" font-style="normal" fill="#000">0.3</text>
<line x1="361.1" y1="8.2" x2="364.3" y2="8.2" stroke="#000" stroke-width="1.2"/>
<text x="358.1" y="12" font-size="10.6" text-anchor="end" font-weight="normal" font-style="normal" fill="#000">0.4</text>
<line x1="364.3" y1="134.4" x2="364.3" y2="137.4" stroke="#000" stroke-width="1.2"/>
<line x1="416.8" y1="134.4" x2="416.8" y2="137.4" stroke="#000" stroke-width="1.2"/>
<line x1="469" y1="134.4" x2="469" y2="137.4" stroke="#000" stroke-width="1.2"/>
<line x1="520.9" y1="134.4" x2="520.9" y2="137.4" stroke="#000" stroke-width="1.2"/>
<line x1="573.3" y1="134.4" x2="573.3" y2="137.4" stroke="#000" stroke-width="1.2"/>
<text x="0" y="0" font-size="12.4" text-anchor="middle" font-weight="normal" font-style="normal" fill="#000" transform="translate(334.8,71.6) rotate(-90)">f variation</text>
<text x="327.6" y="12" font-size="17" text-anchor="start" font-weight="bold" font-style="normal" fill="#000">d</text>
<rect x="377.6" y="52.4" width="25.4" height="82" fill="#000" stroke="#000" stroke-width="0.8"/>
<rect x="429.7" y="57.7" width="25.4" height="76.7" fill="#7f7f7f" stroke="#6a6a6a" stroke-width="0.8"/>
<rect x="481.7" y="104.6" width="25.6" height="29.8" fill="#000" stroke="#000" stroke-width="0.8"/>
<rect x="533.9" y="103" width="25.8" height="31.4" fill="#7f7f7f" stroke="#6a6a6a" stroke-width="0.8"/>
<line x1="363.6" y1="134.4" x2="574" y2="134.4" stroke="#000" stroke-width="1.6"/>
<line x1="390.7" y1="47.2" x2="390.7" y2="52" stroke="#666" stroke-width="0.9"/><line x1="388.4" y1="47.2" x2="393" y2="47.2" stroke="#666" stroke-width="0.9"/>
<line x1="442.4" y1="51.6" x2="442.4" y2="63" stroke="#666" stroke-width="0.9"/><line x1="440.1" y1="51.6" x2="444.7" y2="51.6" stroke="#666" stroke-width="0.9"/><line x1="440.1" y1="63" x2="444.7" y2="63" stroke="#666" stroke-width="0.9"/>
<line x1="494.5" y1="102" x2="494.5" y2="104.2" stroke="#666" stroke-width="0.9"/><line x1="492.2" y1="102" x2="496.8" y2="102" stroke="#666" stroke-width="0.9"/>
<line x1="546.8" y1="100.6" x2="546.8" y2="104.6" stroke="#666" stroke-width="0.9"/><line x1="544.5" y1="100.6" x2="549.1" y2="100.6" stroke="#666" stroke-width="0.9"/><line x1="544.5" y1="104.6" x2="549.1" y2="104.6" stroke="#666" stroke-width="0.9"/>
<path d="M390.3 41.3 V33.6 Q390.3 32 391.9 32 H442.5 Q444.1 32 444.1 33.6 V41.3" fill="none" stroke="#222" stroke-width="1.3"/>
<path d="M494 93 V88.1 Q494 86.5 495.6 86.5 H545.5 Q547.1 86.5 547.1 88.1 V93" fill="none" stroke="#222" stroke-width="1.3"/>
<text x="416.8" y="26.5" font-size="10" text-anchor="middle" font-weight="normal" font-style="normal" fill="#000">NS</text>
<text x="520.6" y="75.3" font-size="10" text-anchor="middle" font-weight="normal" font-style="normal" fill="#000">NS</text>
<text x="0" y="0" font-size="11.2" transform="translate(388,146.7) rotate(33)"><tspan font-style="italic">Mecp2</tspan><tspan font-size="7.6" dy="-4.2">+/-</tspan><tspan dy="4.9" font-style="italic">(R)</tspan></text>
<text x="0" y="0" font-size="11.2" transform="translate(444.2,146.4) rotate(33)"><tspan font-style="italic">Mecp2</tspan><tspan font-size="7.6" dy="-4.2">+/-</tspan><tspan dy="4.9" font-style="italic">(r)</tspan></text>
<text x="0" y="0" font-size="11.2" transform="translate(498.5,146.7) rotate(33)"><tspan font-style="italic">Mecp2</tspan><tspan font-size="7.6" dy="-4.2">+/-</tspan><tspan dy="4.9" font-style="italic">(N)</tspan></text>
<text x="0" y="0" font-size="11.2" transform="translate(550.8,146.7) rotate(33)"><tspan font-style="italic">Mecp2</tspan><tspan font-size="7.6" dy="-4.2">+/-</tspan><tspan dy="4.9" font-style="italic">(n)</tspan></text>
<line x1="370.4" y1="207.3" x2="370.4" y2="334.3" stroke="#000" stroke-width="1.4"/>
<line x1="369.7" y1="333.6" x2="591.3" y2="333.6" stroke="#000" stroke-width="1.6"/>
<line x1="367.2" y1="333.6" x2="370.4" y2="333.6" stroke="#000" stroke-width="1.2"/>
<text x="364.1" y="337.4" font-size="11.5" text-anchor="end" font-weight="normal" font-style="normal" fill="#000">0</text>
<line x1="367.2" y1="305.25" x2="370.4" y2="305.25" stroke="#000" stroke-width="1.2"/>
<text x="364.1" y="309.05" font-size="11.5" text-anchor="end" font-weight="normal" font-style="normal" fill="#000">0.1</text>
<line x1="367.2" y1="276.9" x2="370.4" y2="276.9" stroke="#000" stroke-width="1.2"/>
<text x="364.1" y="280.7" font-size="11.5" text-anchor="end" font-weight="normal" font-style="normal" fill="#000">0.2</text>
<line x1="367.2" y1="248.55" x2="370.4" y2="248.55" stroke="#000" stroke-width="1.2"/>
<text x="364.1" y="252.35" font-size="11.5" text-anchor="end" font-weight="normal" font-style="normal" fill="#000">0.3</text>
<line x1="367.2" y1="220.2" x2="370.4" y2="220.2" stroke="#000" stroke-width="1.2"/>
<text x="364.1" y="224" font-size="11.5" text-anchor="end" font-weight="normal" font-style="normal" fill="#000">0.4</text>
<line x1="370.4" y1="333.6" x2="370.4" y2="336.6" stroke="#000" stroke-width="1.2"/>
<line x1="414.44" y1="333.6" x2="414.44" y2="336.6" stroke="#000" stroke-width="1.2"/>
<line x1="458.48" y1="333.6" x2="458.48" y2="336.6" stroke="#000" stroke-width="1.2"/>
<line x1="502.52" y1="333.6" x2="502.52" y2="336.6" stroke="#000" stroke-width="1.2"/>
<line x1="546.56" y1="333.6" x2="546.56" y2="336.6" stroke="#000" stroke-width="1.2"/>
<line x1="590.6" y1="333.6" x2="590.6" y2="336.6" stroke="#000" stroke-width="1.2"/>
<text x="0" y="0" font-size="12.4" text-anchor="middle" font-weight="normal" font-style="normal" fill="#000" transform="translate(335,277.1) rotate(-90)">f variation</text>
<text x="327.2" y="217.4" font-size="17" text-anchor="start" font-weight="bold" font-style="normal" fill="#000">e</text>
<rect x="377.3" y="303" width="30.4" height="30.6" fill="#fff" stroke="#000" stroke-width="1.4"/>
<rect x="420.9" y="256" width="31.1" height="77.6" fill="#000" stroke="#000" stroke-width="1.4"/>
<line x1="421.5" y1="295.2" x2="451.4" y2="295.2" stroke="#161616" stroke-width="0.8"/>
<rect x="465" y="263" width="30.7" height="70.6" fill="url(#hs)" stroke="#000" stroke-width="1.4"/>
<rect x="508.6" y="304.6" width="31.2" height="29" fill="url(#dg)" stroke="#000" stroke-width="1.4"/>
<rect x="553.2" y="300.5" width="30.3" height="33.1" fill="#7f7f7f" stroke="#000" stroke-width="1.4"/>
<line x1="369.7" y1="333.6" x2="591.3" y2="333.6" stroke="#000" stroke-width="1.6"/>
<line x1="392.5" y1="299.1" x2="392.5" y2="304.8" stroke="#666" stroke-width="0.9"/><line x1="390.2" y1="299.1" x2="394.8" y2="299.1" stroke="#666" stroke-width="0.9"/><line x1="390.2" y1="304.8" x2="394.8" y2="304.8" stroke="#666" stroke-width="0.9"/>
<line x1="436.4" y1="248.2" x2="436.4" y2="255.3" stroke="#666" stroke-width="0.9"/><line x1="434.1" y1="248.2" x2="438.7" y2="248.2" stroke="#666" stroke-width="0.9"/>
<line x1="480.4" y1="259.2" x2="480.4" y2="265.6" stroke="#666" stroke-width="0.9"/><line x1="478.1" y1="259.2" x2="482.7" y2="259.2" stroke="#666" stroke-width="0.9"/><line x1="478.1" y1="265.6" x2="482.7" y2="265.6" stroke="#666" stroke-width="0.9"/>
<line x1="524.2" y1="301.6" x2="524.2" y2="306.2" stroke="#666" stroke-width="0.9"/><line x1="521.9" y1="301.6" x2="526.5" y2="301.6" stroke="#666" stroke-width="0.9"/><line x1="521.9" y1="306.2" x2="526.5" y2="306.2" stroke="#666" stroke-width="0.9"/>
<line x1="568.4" y1="297.8" x2="568.4" y2="302.2" stroke="#666" stroke-width="0.9"/><line x1="566.1" y1="297.8" x2="570.7" y2="297.8" stroke="#666" stroke-width="0.9"/><line x1="566.1" y1="302.2" x2="570.7" y2="302.2" stroke="#666" stroke-width="0.9"/>
<path d="M388.6 294 V214.2 Q388.6 212.6 390.2 212.6 H523.7 Q525.3 212.6 525.3 214.2 V292.7" fill="none" stroke="#333" stroke-width="1.5"/>
<path d="M393.4 294 V229 Q393.4 227.4 395 227.4 H477 Q478.6 227.4 478.6 229 V257.5" fill="none" stroke="#333" stroke-width="1.5"/>
<path d="M397.3 294 V245.2 Q397.3 243.6 398.9 243.6 H433.2 Q434.8 243.6 434.8 245.2 V247" fill="none" stroke="#333" stroke-width="1.5"/>
<path d="M438.3 247 V245.2 Q438.3 243.6 439.9 243.6 H473.7 Q475.3 243.6 475.3 245.2 V258" fill="none" stroke="#333" stroke-width="1.5"/>
<path d="M481.4 257.5 V254.6 Q481.4 253 483 253 H519.2 Q520.8 253 520.8 254.6 V292.7" fill="none" stroke="#333" stroke-width="1.5"/>
<path d="M527.9 292.7 V285.4 Q527.9 283.8 529.5 283.8 H565.6 Q567.2 283.8 567.2 285.4 V287.6" fill="none" stroke="#333" stroke-width="1.5"/>
<text x="457.4" y="208" font-size="10" text-anchor="middle" font-weight="normal" font-style="normal" fill="#000">NS</text>
<text x="457.2" y="240.4" font-size="10" text-anchor="middle" font-weight="normal" font-style="normal" fill="#000">NS</text>
<text x="548.4" y="281.4" font-size="10" text-anchor="middle" font-weight="normal" font-style="normal" fill="#000">NS</text>
<path d="M429.3,217.7 L429.95,219.91 L432.25,219.84 L430.35,221.14 L431.12,223.3 L429.3,221.9 L427.48,223.3 L428.25,221.14 L426.35,219.84 L428.65,219.91Z" fill="#000" stroke="#000" stroke-width="0.3" stroke-linejoin="round"/><path d="M436,217.7 L436.65,219.91 L438.95,219.84 L437.05,221.14 L437.82,223.3 L436,221.9 L434.18,223.3 L434.95,221.14 L433.05,219.84 L435.35,219.91Z" fill="#000" stroke="#000" stroke-width="0.3" stroke-linejoin="round"/><path d="M442.7,217.7 L443.35,219.91 L445.65,219.84 L443.75,221.14 L444.52,223.3 L442.7,221.9 L440.88,223.3 L441.65,221.14 L439.75,219.84 L442.05,219.91Z" fill="#000" stroke="#000" stroke-width="0.3" stroke-linejoin="round"/>
<path d="M408.5,233.6 L409.15,235.81 L411.45,235.74 L409.55,237.04 L410.32,239.2 L408.5,237.8 L406.68,239.2 L407.45,237.04 L405.55,235.74 L407.85,235.81Z" fill="#000" stroke="#000" stroke-width="0.3" stroke-linejoin="round"/><path d="M415.2,233.6 L415.85,235.81 L418.15,235.74 L416.25,237.04 L417.02,239.2 L415.2,237.8 L413.38,239.2 L414.15,237.04 L412.25,235.74 L414.55,235.81Z" fill="#000" stroke="#000" stroke-width="0.3" stroke-linejoin="round"/><path d="M421.9,233.6 L422.55,235.81 L424.85,235.74 L422.95,237.04 L423.72,239.2 L421.9,237.8 L420.08,239.2 L420.85,237.04 L418.95,235.74 L421.25,235.81Z" fill="#000" stroke="#000" stroke-width="0.3" stroke-linejoin="round"/>
<path d="M493.8,241.3 L494.45,243.51 L496.75,243.44 L494.85,244.74 L495.62,246.9 L493.8,245.5 L491.98,246.9 L492.75,244.74 L490.85,243.44 L493.15,243.51Z" fill="#000" stroke="#000" stroke-width="0.3" stroke-linejoin="round"/><path d="M500.5,241.3 L501.15,243.51 L503.45,243.44 L501.55,244.74 L502.32,246.9 L500.5,245.5 L498.68,246.9 L499.45,244.74 L497.55,243.44 L499.85,243.51Z" fill="#000" stroke="#000" stroke-width="0.3" stroke-linejoin="round"/><path d="M507.2,241.3 L507.85,243.51 L510.15,243.44 L508.25,244.74 L509.02,246.9 L507.2,245.5 L505.38,246.9 L506.15,244.74 L504.25,243.44 L506.55,243.51Z" fill="#000" stroke="#000" stroke-width="0.3" stroke-linejoin="round"/>
<text x="0" y="0" font-size="11.4" transform="translate(379.2,342.2) rotate(33)">WT (M/F)</text>
<text x="0" y="0" font-size="11.2" transform="translate(430.3,342) rotate(32)"><tspan font-style="italic">Mecp2</tspan><tspan font-size="7.6" dy="-4.2">-/Y</tspan></text>
<text x="0" y="0" font-size="11.2" transform="translate(479.2,342) rotate(32)"><tspan font-style="italic">Mecp2</tspan><tspan font-size="7.6" dy="-4.2">+/-</tspan><tspan dy="4.9" font-style="italic">(R)</tspan></text>
<text x="0" y="0" font-size="11.2" transform="translate(522.8,342) rotate(32)"><tspan font-style="italic">Mecp2</tspan><tspan font-size="7.6" dy="-4.2">+/-</tspan><tspan dy="4.9" font-style="italic">(N)</tspan></text>
<text x="0" y="0" font-size="11.2" transform="translate(566.8,342) rotate(32)"><tspan font-style="italic">Mecp2</tspan><tspan font-size="7.6" dy="-4.2">+/-</tspan></text>
<line x1="368.2" y1="402" x2="368.2" y2="527.1" stroke="#000" stroke-width="1.4"/>
<line x1="367.5" y1="526.4" x2="588.7" y2="526.4" stroke="#000" stroke-width="1.6"/>
<line x1="365" y1="526.4" x2="368.2" y2="526.4" stroke="#000" stroke-width="1.2"/>
<text x="361.9" y="530.2" font-size="11.5" text-anchor="end" font-weight="normal" font-style="normal" fill="#000">0</text>
<line x1="365" y1="499.6" x2="368.2" y2="499.6" stroke="#000" stroke-width="1.2"/>
<text x="361.9" y="503.4" font-size="11.5" text-anchor="end" font-weight="normal" font-style="normal" fill="#000">0.1</text>
<line x1="365" y1="472.8" x2="368.2" y2="472.8" stroke="#000" stroke-width="1.2"/>
<text x="361.9" y="476.6" font-size="11.5" text-anchor="end" font-weight="normal" font-style="normal" fill="#000">0.2</text>
<line x1="365" y1="446" x2="368.2" y2="446" stroke="#000" stroke-width="1.2"/>
<text x="361.9" y="449.8" font-size="11.5" text-anchor="end" font-weight="normal" font-style="normal" fill="#000">0.3</text>
<line x1="365" y1="419.2" x2="368.2" y2="419.2" stroke="#000" stroke-width="1.2"/>
<text x="361.9" y="423" font-size="11.5" text-anchor="end" font-weight="normal" font-style="normal" fill="#000">0.4</text>
<line x1="368.2" y1="526.4" x2="368.2" y2="529.4" stroke="#000" stroke-width="1.2"/>
<line x1="412.16" y1="526.4" x2="412.16" y2="529.4" stroke="#000" stroke-width="1.2"/>
<line x1="456.12" y1="526.4" x2="456.12" y2="529.4" stroke="#000" stroke-width="1.2"/>
<line x1="500.08" y1="526.4" x2="500.08" y2="529.4" stroke="#000" stroke-width="1.2"/>
<line x1="544.04" y1="526.4" x2="544.04" y2="529.4" stroke="#000" stroke-width="1.2"/>
<line x1="588" y1="526.4" x2="588" y2="529.4" stroke="#000" stroke-width="1.2"/>
<text x="0" y="0" font-size="12.4" text-anchor="middle" font-weight="normal" font-style="normal" fill="#000" transform="translate(336.5,471.5) rotate(-90)">f variation</text>
<text x="329.6" y="405.5" font-size="17" text-anchor="start" font-weight="bold" font-style="normal" fill="#000">f</text>
<rect x="374.55" y="496.95" width="31.3" height="29.45" fill="#fff" stroke="#9a9a9a" stroke-width="0.9"/>
<rect x="419.15" y="452.75" width="30.5" height="73.65" fill="#000" stroke="#000" stroke-width="0.9"/>
<rect x="462.95" y="461.45" width="30.2" height="64.95" fill="url(#hs2)" stroke="#888" stroke-width="0.9"/>
<rect x="505.85" y="499.55" width="31.9" height="26.85" fill="url(#dg)" stroke="#888" stroke-width="0.9"/>
<rect x="550.45" y="495.05" width="31.1" height="31.35" fill="#7f7f7f" stroke="#666" stroke-width="0.9"/>
<line x1="367.5" y1="526.4" x2="588.7" y2="526.4" stroke="#000" stroke-width="1.6"/>
<line x1="390.3" y1="493.9" x2="390.3" y2="499.5" stroke="#666" stroke-width="0.9"/><line x1="388" y1="493.9" x2="392.6" y2="493.9" stroke="#666" stroke-width="0.9"/><line x1="388" y1="499.5" x2="392.6" y2="499.5" stroke="#666" stroke-width="0.9"/>
<line x1="434.4" y1="446.3" x2="434.4" y2="452.3" stroke="#666" stroke-width="0.9"/><line x1="432.1" y1="446.3" x2="436.7" y2="446.3" stroke="#666" stroke-width="0.9"/>
<line x1="478.1" y1="457.2" x2="478.1" y2="465.5" stroke="#666" stroke-width="0.9"/><line x1="475.8" y1="457.2" x2="480.4" y2="457.2" stroke="#666" stroke-width="0.9"/><line x1="475.8" y1="465.5" x2="480.4" y2="465.5" stroke="#666" stroke-width="0.9"/>
<line x1="521.9" y1="497.2" x2="521.9" y2="501" stroke="#666" stroke-width="0.9"/><line x1="519.6" y1="497.2" x2="524.2" y2="497.2" stroke="#666" stroke-width="0.9"/><line x1="519.6" y1="501" x2="524.2" y2="501" stroke="#666" stroke-width="0.9"/>
<line x1="566.2" y1="492.5" x2="566.2" y2="497.2" stroke="#666" stroke-width="0.9"/><line x1="563.9" y1="492.5" x2="568.5" y2="492.5" stroke="#666" stroke-width="0.9"/><line x1="563.9" y1="497.2" x2="568.5" y2="497.2" stroke="#666" stroke-width="0.9"/>
<path d="M386.5 490.9 V410.4 Q386.5 408.8 388.1 408.8 H522.2 Q523.8 408.8 523.8 410.4 V489.4" fill="none" stroke="#333" stroke-width="1.5"/>
<path d="M391.5 490.9 V424.9 Q391.5 423.3 393.1 423.3 H475 Q476.6 423.3 476.6 424.9 V452" fill="none" stroke="#333" stroke-width="1.5"/>
<path d="M395.4 490.9 V442.1 Q395.4 440.5 397 440.5 H431.8 Q433.4 440.5 433.4 442.1 V444" fill="none" stroke="#333" stroke-width="1.5"/>
<path d="M437.2 444 V442.1 Q437.2 440.5 438.8 440.5 H471.2 Q472.8 440.5 472.8 442.1 V452" fill="none" stroke="#333" stroke-width="1.5"/>
<path d="M480 452 V450.1 Q480 448.5 481.6 448.5 H517.7 Q519.3 448.5 519.3 450.1 V489.4" fill="none" stroke="#333" stroke-width="1.5"/>
<path d="M526.2 489.4 V481.4 Q526.2 479.8 527.8 479.8 H563.3 Q564.9 479.8 564.9 481.4 V484" fill="none" stroke="#333" stroke-width="1.5"/>
<text x="455.8" y="404.1" font-size="10" text-anchor="middle" font-weight="normal" font-style="normal" fill="#000">NS</text>
<text x="454.6" y="437.7" font-size="10" text-anchor="middle" font-weight="normal" font-style="normal" fill="#000">NS</text>
<text x="546.5" y="478.2" font-size="10" text-anchor="middle" font-weight="normal" font-style="normal" fill="#000">NS</text>
<path d="M427.5,414.4 L428.15,416.61 L430.45,416.54 L428.55,417.84 L429.32,420 L427.5,418.6 L425.68,420 L426.45,417.84 L424.55,416.54 L426.85,416.61Z" fill="#000" stroke="#000" stroke-width="0.3" stroke-linejoin="round"/><path d="M434.2,414.4 L434.85,416.61 L437.15,416.54 L435.25,417.84 L436.02,420 L434.2,418.6 L432.38,420 L433.15,417.84 L431.25,416.54 L433.55,416.61Z" fill="#000" stroke="#000" stroke-width="0.3" stroke-linejoin="round"/><path d="M440.9,414.4 L441.55,416.61 L443.85,416.54 L441.95,417.84 L442.72,420 L440.9,418.6 L439.08,420 L439.85,417.84 L437.95,416.54 L440.25,416.61Z" fill="#000" stroke="#000" stroke-width="0.3" stroke-linejoin="round"/>
<path d="M407,430.9 L407.65,433.11 L409.95,433.04 L408.05,434.34 L408.82,436.5 L407,435.1 L405.18,436.5 L405.95,434.34 L404.05,433.04 L406.35,433.11Z" fill="#000" stroke="#000" stroke-width="0.3" stroke-linejoin="round"/><path d="M413.7,430.9 L414.35,433.11 L416.65,433.04 L414.75,434.34 L415.52,436.5 L413.7,435.1 L411.88,436.5 L412.65,434.34 L410.75,433.04 L413.05,433.11Z" fill="#000" stroke="#000" stroke-width="0.3" stroke-linejoin="round"/><path d="M420.4,430.9 L421.05,433.11 L423.35,433.04 L421.45,434.34 L422.22,436.5 L420.4,435.1 L418.58,436.5 L419.35,434.34 L417.45,433.04 L419.75,433.11Z" fill="#000" stroke="#000" stroke-width="0.3" stroke-linejoin="round"/>
<path d="M492.1,438 L492.75,440.21 L495.05,440.14 L493.15,441.44 L493.92,443.6 L492.1,442.2 L490.28,443.6 L491.05,441.44 L489.15,440.14 L491.45,440.21Z" fill="#000" stroke="#000" stroke-width="0.3" stroke-linejoin="round"/><path d="M498.8,438 L499.45,440.21 L501.75,440.14 L499.85,441.44 L500.62,443.6 L498.8,442.2 L496.98,443.6 L497.75,441.44 L495.85,440.14 L498.15,440.21Z" fill="#000" stroke="#000" stroke-width="0.3" stroke-linejoin="round"/><path d="M505.5,438 L506.15,440.21 L508.45,440.14 L506.55,441.44 L507.32,443.6 L505.5,442.2 L503.68,443.6 L504.45,441.44 L502.55,440.14 L504.85,440.21Z" fill="#000" stroke="#000" stroke-width="0.3" stroke-linejoin="round"/>
<text x="0" y="0" font-size="11.4" transform="translate(382.6,539.3) rotate(33)">WT (M/F)</text>
<text x="0" y="0" font-size="11.2" transform="translate(430.2,539.6) rotate(32)"><tspan font-style="italic">Mecp2</tspan><tspan font-size="7.6" dy="-4.2">-/Y</tspan></text>
<text x="0" y="0" font-size="11.2" transform="translate(473.2,538.8) rotate(32)"><tspan font-style="italic">Mecp2</tspan><tspan font-size="7.6" dy="-4.2">+/-</tspan><tspan dy="4.9" font-style="italic">(r)</tspan></text>
<text x="0" y="0" font-size="11.2" transform="translate(516,538.8) rotate(32)"><tspan font-style="italic">Mecp2</tspan><tspan font-size="7.6" dy="-4.2">+/-</tspan><tspan dy="4.9" font-style="italic">(n)</tspan></text>
<text x="0" y="0" font-size="11.2" transform="translate(562.2,538.8) rotate(32)"><tspan font-style="italic">Mecp2</tspan><tspan font-size="7.6" dy="-4.2">+/-</tspan></text>
</svg>
</body></html>
